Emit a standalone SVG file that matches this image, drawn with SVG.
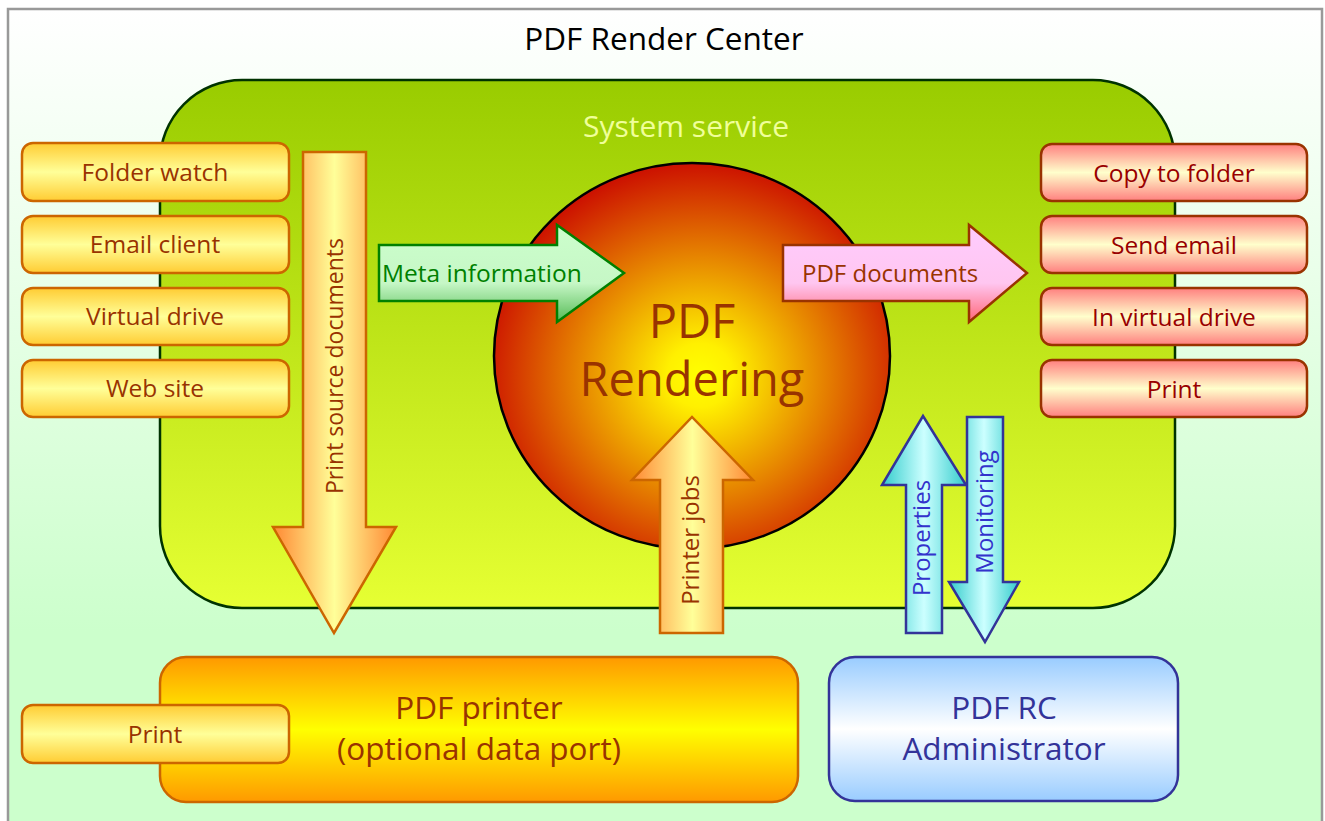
<svg xmlns="http://www.w3.org/2000/svg" width="1325" height="821" viewBox="0 0 1325 821">
<defs>
<linearGradient id="gBg" x1="0" y1="0" x2="0" y2="1"><stop offset="0" stop-color="#FFFFFF"/><stop offset="0.75" stop-color="#CCFFCC"/><stop offset="1" stop-color="#CCFFCC"/></linearGradient>
<linearGradient id="gSys" x1="0" y1="0" x2="0" y2="1"><stop offset="0" stop-color="#99CC00"/><stop offset="1" stop-color="#E6FF33"/></linearGradient>
<linearGradient id="gYel" x1="0" y1="0" x2="0" y2="1"><stop offset="0" stop-color="#FFCC33"/><stop offset="0.5" stop-color="#FFFF99"/><stop offset="1" stop-color="#FFCC33"/></linearGradient>
<linearGradient id="gRed" x1="0" y1="0" x2="0" y2="1"><stop offset="0" stop-color="#FF7F7F"/><stop offset="0.5" stop-color="#FFFFCC"/><stop offset="1" stop-color="#FF7F7F"/></linearGradient>
<linearGradient id="gOrH" x1="0" y1="0" x2="1" y2="0"><stop offset="0" stop-color="#FF8833"/><stop offset="0.5" stop-color="#FFFF99"/><stop offset="1" stop-color="#FF8833"/></linearGradient>
<linearGradient id="gCyH" x1="0" y1="0" x2="1" y2="0"><stop offset="0" stop-color="#33CCCC"/><stop offset="0.5" stop-color="#CCFFFF"/><stop offset="1" stop-color="#33CCCC"/></linearGradient>
<linearGradient id="gGrn" x1="0" y1="0" x2="0" y2="1"><stop offset="0" stop-color="#CCFFCC"/><stop offset="0.6" stop-color="#C6F7C6"/><stop offset="1" stop-color="#55BB55"/></linearGradient>
<linearGradient id="gPnk" x1="0" y1="0" x2="0" y2="1"><stop offset="0" stop-color="#FFCCFF"/><stop offset="0.6" stop-color="#FFC6F0"/><stop offset="1" stop-color="#FF6677"/></linearGradient>
<linearGradient id="gPrn" x1="0" y1="0" x2="0" y2="1"><stop offset="0" stop-color="#FF9900"/><stop offset="0.5" stop-color="#FFFF00"/><stop offset="1" stop-color="#FF9900"/></linearGradient>
<linearGradient id="gBlu" x1="0" y1="0" x2="0" y2="1"><stop offset="0" stop-color="#99CCFF"/><stop offset="0.5" stop-color="#FFFFFF"/><stop offset="1" stop-color="#99CCFF"/></linearGradient>
<radialGradient id="gSun" cx="0.52" cy="0.55" r="0.55"><stop offset="0" stop-color="#FFFF00"/><stop offset="0.15" stop-color="#FFF000"/><stop offset="1" stop-color="#CC1100"/></radialGradient>
<style>
text{font-family:"Open Sans","DejaVu Sans",sans-serif;}
.yb{fill:url(#gYel);stroke:#CC6600;stroke-width:2.5;}
.rb{fill:url(#gRed);stroke:#993300;stroke-width:2.5;}
.yt{fill:#993300;font-size:24.5px;text-anchor:middle;}
.rt{fill:#990000;font-size:24.5px;text-anchor:middle;}
.vt{font-size:24px;text-anchor:middle;}
.ao{fill:url(#gOrH);stroke:#CC6600;stroke-width:2.5;}
.ac{fill:url(#gCyH);stroke:#333399;stroke-width:2.5;}
.big{font-size:31.5px;text-anchor:middle;}
</style>
</defs>
<rect x="0" y="0" width="1325" height="821" fill="#FFFFFF"/>
<rect x="8" y="9" width="1314" height="830" fill="url(#gBg)" stroke="#999999" stroke-width="2.5"/>
<text x="664" y="50" font-size="31.5" text-anchor="middle" fill="#000000">PDF Render Center</text>
<g id="system-service">
<rect x="160" y="80" width="1015" height="528" rx="82" ry="82" fill="url(#gSys)" stroke="#003300" stroke-width="2.5"/>
<text x="686" y="137" font-size="30" text-anchor="middle" fill="#F0FF99">System service</text>
</g>
<g id="folder-watch"><rect class="yb" x="22" y="143" width="267" height="58" rx="11"/><text class="yt" x="155" y="181">Folder watch</text></g>
<g id="email-client"><rect class="yb" x="22" y="216" width="267" height="57" rx="11"/><text class="yt" x="155" y="253">Email client</text></g>
<g id="virtual-drive"><rect class="yb" x="22" y="288" width="267" height="57" rx="11"/><text class="yt" x="155" y="325">Virtual drive</text></g>
<g id="web-site"><rect class="yb" x="22" y="360" width="267" height="57" rx="11"/><text class="yt" x="155" y="397">Web site</text></g>
<g id="copy-to-folder"><rect class="rb" x="1041" y="144" width="266" height="57" rx="11"/><text class="rt" x="1174" y="182">Copy to folder</text></g>
<g id="send-email"><rect class="rb" x="1041" y="216" width="266" height="57" rx="11"/><text class="rt" x="1174" y="254">Send email</text></g>
<g id="in-virtual-drive"><rect class="rb" x="1041" y="288" width="266" height="57" rx="11"/><text class="rt" x="1174" y="326">In virtual drive</text></g>
<g id="print-out"><rect class="rb" x="1041" y="360" width="266" height="57" rx="11"/><text class="rt" x="1174" y="398">Print</text></g>
<g id="pdf-rendering">
<ellipse cx="692" cy="356" rx="198" ry="193" fill="url(#gSun)" stroke="#000000" stroke-width="2.5"/>
<text x="692" y="338" font-size="47" text-anchor="middle" fill="#993300">PDF</text>
<text x="692" y="396" font-size="47" text-anchor="middle" fill="#993300">Rendering</text>
</g>
<g id="connectors">
<g id="print-source-documents">
<path class="ao" d="M303,152 H366 V527 H396 L334,633 L273,527 H303 Z"/>
<text class="vt" fill="#993300" font-size="23" transform="translate(334,366) rotate(-90)" x="0" y="8.5" style="font-size:23px">Print source documents</text>
</g>
<g id="meta-information">
<path d="M379,245 H557 V225 L624,273 L557,322 V301 H379 Z" fill="url(#gGrn)" stroke="#008000" stroke-width="2.5"/>
<text x="382" y="282" font-size="24.5" fill="#008000">Meta information</text>
</g>
<g id="pdf-documents">
<path d="M783,245 H969 V225 L1027,273 L969,322 V301 H783 Z" fill="url(#gPnk)" stroke="#993300" stroke-width="2.5"/>
<text x="802" y="282" font-size="24" fill="#993300">PDF documents</text>
</g>
<g id="printer-jobs">
<path class="ao" d="M660,633 V480 H632 L692,417 L753,480 H723 V633 Z"/>
<text class="vt" fill="#993300" transform="translate(690,540) rotate(-90)" x="0" y="8.5">Printer jobs</text>
</g>
<g id="properties">
<path class="ac" d="M906,633 V485 H882 L923,416 L966,485 H942 V633 Z"/>
<text class="vt" fill="#3333CC" transform="translate(921,538) rotate(-90)" x="0" y="8.5">Properties</text>
</g>
<g id="monitoring">
<path class="ac" d="M967,417 H1003 V582 H1019 L985,642 L949,582 H967 Z"/>
<text class="vt" fill="#3333CC" transform="translate(984,512) rotate(-90)" x="0" y="8.5">Monitoring</text>
</g>
</g>
<g id="pdf-printer">
<rect x="160" y="657" width="638" height="145" rx="26" fill="url(#gPrn)" stroke="#CC6600" stroke-width="2.5"/>
<text class="big" x="479" y="719" fill="#993300">PDF printer</text>
<text class="big" x="479" y="760" fill="#993300">(optional data port)</text>
</g>
<g id="print-in"><rect class="yb" x="22" y="705" width="267" height="58" rx="11"/><text class="yt" x="155" y="743">Print</text></g>
<g id="pdf-rc-administrator">
<rect x="829" y="657" width="349" height="144" rx="26" fill="url(#gBlu)" stroke="#333399" stroke-width="2.5"/>
<text class="big" x="1004" y="719" fill="#333399">PDF RC</text>
<text class="big" x="1004" y="760" fill="#333399">Administrator</text>
</g>
</svg>
